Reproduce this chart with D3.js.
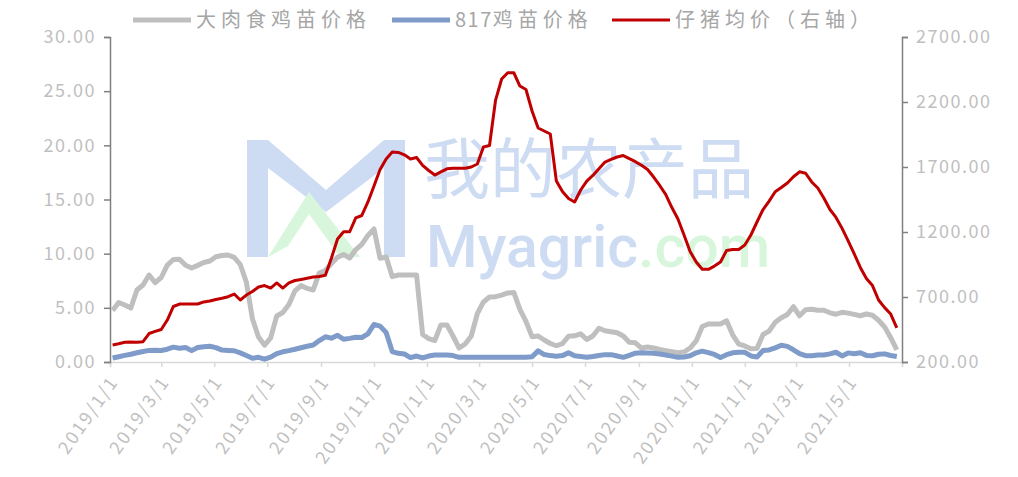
<!DOCTYPE html>
<html>
<head>
<meta charset="utf-8">
<script src="https://cdn.jsdelivr.net/npm/d3@7"></script>
<style>
  body { margin: 0; background: #fff; }
  text { font-family: "Noto Sans CJK SC", "DejaVu Sans", sans-serif; }
</style>
</head>
<body>
<div id="chart"></div>
<script>
// weekly data, first week 2019/1/4
var startDate = new Date(2019, 0, 4);

// 大肉食鸡苗价格 (left axis)
var broiler = [4.75,5.49,5.26,4.98,6.65,7.11,8.03,7.32,7.80,8.95,9.46,9.49,8.93,8.68,8.92,9.18,9.32,9.72,9.83,9.88,
  9.66,9.00,7.38,3.99,2.31,1.55,2.22,4.25,4.57,5.31,6.57,7.06,6.79,6.65,8.22,8.45,9.09,9.66,9.93,9.60,
  10.38,10.85,11.68,12.28,9.57,9.69,7.88,8.03,8.03,8.03,8.03,2.54,2.16,1.98,3.42,3.42,2.40,1.29,1.66,2.40,
  4.46,5.54,6.00,6.03,6.18,6.37,6.42,4.85,3.74,2.34,2.40,2.03,1.71,1.50,1.69,2.38,2.42,2.60,2.08,2.40,
  3.12,2.88,2.80,2.70,2.40,1.82,1.77,1.29,1.38,1.29,1.15,1.05,0.96,0.86,0.92,1.29,1.94,3.28,3.51,3.50,
  3.51,3.80,2.51,1.66,1.48,1.22,1.25,2.54,2.86,3.66,4.08,4.38,5.10,4.27,4.83,4.87,4.77,4.78,4.54,4.41,
  4.59,4.51,4.40,4.27,4.43,4.31,3.85,3.23,2.24,1.11];

// 817鸡苗价格 (left axis)
var chick817 = [0.37,0.49,0.61,0.72,0.85,0.97,1.07,1.08,1.06,1.18,1.37,1.27,1.34,1.05,1.33,1.40,1.45,1.33,1.10,1.07,
  1.04,0.84,0.60,0.35,0.43,0.26,0.45,0.78,0.94,1.05,1.18,1.32,1.45,1.57,1.98,2.33,2.20,2.46,2.10,2.18,
  2.29,2.26,2.59,3.47,3.31,2.72,0.96,0.80,0.74,0.41,0.55,0.37,0.55,0.65,0.65,0.65,0.59,0.43,0.44,0.44,
  0.44,0.44,0.44,0.44,0.44,0.44,0.44,0.44,0.44,0.48,1.03,0.69,0.59,0.53,0.59,0.85,0.57,0.50,0.44,0.50,
  0.60,0.68,0.68,0.55,0.43,0.62,0.81,0.85,0.82,0.80,0.73,0.64,0.54,0.43,0.46,0.57,0.85,1.00,0.86,0.70,
  0.41,0.67,0.85,0.90,0.89,0.56,0.47,1.06,1.11,1.30,1.54,1.44,1.13,0.78,0.58,0.57,0.65,0.65,0.75,0.90,
  0.56,0.84,0.76,0.85,0.61,0.58,0.72,0.75,0.60,0.51];

// 仔猪均价 (right axis)
var piglet = [331,340,352,354,352,356,419,435,450,523,627,646,646,646,646,662,669,681,690,702,
  723,677,715,742,777,788,769,808,769,808,827,835,844,854,858,868,1000,1146,1202,1202,
  1308,1327,1431,1554,1681,1762,1815,1812,1794,1762,1773,1712,1673,1638,1662,1686,1690,1690,1690,1700,
  1723,1854,1865,2215,2377,2425,2425,2323,2296,2131,2000,1977,1954,1592,1512,1458,1431,1523,1592,1635,
  1687,1738,1758,1777,1788,1765,1741,1713,1681,1623,1558,1488,1388,1300,1177,1050,969,913,913,938,
  969,1058,1065,1066,1100,1177,1277,1373,1438,1510,1542,1577,1625,1663,1652,1585,1538,1462,1373,1312,
  1228,1132,1031,927,842,788,677,618,569,462];

var leftTicks = [0, 5, 10, 15, 20, 25, 30];
var rightTicks = [200, 700, 1200, 1700, 2200, 2700];
var legendNames = ["大肉食鸡苗价格", "817鸡苗价格", "仔猪均价（右轴）"];
var colors = ["#bfbfbf", "#7f9bc9", "#c00000"];

var dates = piglet.map(function(d, i){ return d3.timeDay.offset(startDate, i * 7); });

var W = 1018, H = 477;
var margin = {top: 37, right: 116, bottom: 115, left: 110};
var width = W - margin.left - margin.right,
    height = H - margin.top - margin.bottom;

var x = d3.scaleTime()
  .domain([new Date(2019, 0, 1), new Date(2021, 6, 1)])
  .range([0, width]);
var yL = d3.scaleLinear().domain([0, 30]).range([height, 0]);
var yR = d3.scaleLinear().domain([200, 2700]).range([height, 0]);

var svg = d3.select("#chart").append("svg")
  .attr("width", W)
  .attr("height", H);

// watermark
var wm = svg.append("g");
wm.append("path")
  .attr("d", "M247,140 L268,140 L326,190 L384,140 L405,140 L405,257 L384,257 L384,168 L326,212 L268,168 L268,257 L247,257 Z")
  .attr("fill", "#cddcf3");
wm.append("path")
  .attr("d", "M268,257 L309,192 L360,257 L340,257 L309,214 L288,246 L268,257 Z")
  .attr("fill", "#d8f6dc");
var wmText = wm.append("text").attr("fill", "#cddcf3");
wmText.append("tspan").attr("x", 424).attr("y", 193)
  .attr("font-size", 66)
  .text("我的农产品");
var wmLine2 = wmText.append("tspan").attr("x", 426).attr("y", 267)
  .attr("font-size", 59).attr("font-family", "Roboto, sans-serif").attr("font-weight", 500);
wmLine2.append("tspan").text("Myagric");
wmLine2.append("tspan").attr("fill", "#d8f6dc").text(".com");

var g = svg.append("g")
  .attr("transform", "translate(" + margin.left + "," + margin.top + ")");

// x axis
var xTicks = d3.timeMonth.every(2).range(new Date(2019, 0, 1), new Date(2021, 6, 2));
var xAxis = g.append("g")
  .attr("transform", "translate(0," + height + ")")
  .call(d3.axisBottom(x).tickValues(xTicks).tickSize(5).tickFormat(""));
xAxis.select(".domain").attr("stroke", "#d9d9d9").attr("stroke-width", 1.5);
xAxis.selectAll(".tick line").attr("stroke", "#d9d9d9").attr("stroke-width", 1.5);

g.selectAll(".xlab")
  .data(xTicks.slice(0, xTicks.length - 1))
  .enter().append("text")
    .attr("class", "xlab")
    .attr("transform", function(d){ return "translate(" + (x(d) + 4) + "," + (height + 16) + ") rotate(-55)"; })
    .attr("text-anchor", "end")
    .attr("dy", "0.35em")
    .attr("font-size", 18)
    .attr("fill", "#bfbfbf")
    .style("letter-spacing", "2px")
    .text(function(d){ return d3.timeFormat("%Y/%-m/%-d")(d); });

// left axis
var left = g.append("g")
  .call(d3.axisLeft(yL).tickValues(leftTicks).tickSize(6).tickPadding(8).tickFormat(d3.format(".2f")));
left.select(".domain").attr("stroke", "#808080").attr("stroke-width", 1.5);
left.selectAll(".tick line").attr("stroke", "#808080").attr("stroke-width", 1.5);
left.selectAll(".tick text").attr("fill", "#bfbfbf").attr("font-size", 18)
  .style("letter-spacing", "1.5px");

// right axis
var right = g.append("g")
  .attr("transform", "translate(" + width + ",0)")
  .call(d3.axisRight(yR).tickValues(rightTicks).tickSize(6).tickPadding(8).tickFormat(d3.format(".2f")));
right.select(".domain").attr("stroke", "#808080").attr("stroke-width", 1.5);
right.selectAll(".tick line").attr("stroke", "#808080").attr("stroke-width", 1.5);
right.selectAll(".tick text").attr("fill", "#bfbfbf").attr("font-size", 18)
  .style("letter-spacing", "1.5px");

// lines
var lineL = d3.line()
  .x(function(d, i){ return x(dates[i]); })
  .y(function(d){ return yL(d); });
var lineR = d3.line()
  .x(function(d, i){ return x(dates[i]); })
  .y(function(d){ return yR(d); });

g.append("path").datum(broiler)
  .attr("fill", "none").attr("stroke", colors[0]).attr("stroke-width", 5)
  .attr("stroke-linejoin", "round")
  .attr("d", lineL);
g.append("path").datum(chick817)
  .attr("fill", "none").attr("stroke", colors[1]).attr("stroke-width", 5)
  .attr("stroke-linejoin", "round")
  .attr("d", lineL);
g.append("path").datum(piglet)
  .attr("fill", "none").attr("stroke", colors[2]).attr("stroke-width", 3)
  .attr("stroke-linejoin", "round")
  .attr("d", lineR);

// legend
var legendX = [133, 392, 612];
var legendW = [5, 5, 3];
var leg = svg.selectAll(".leg")
  .data(legendNames)
  .enter().append("g")
    .attr("class", "leg")
    .attr("transform", function(d, i){ return "translate(" + legendX[i] + ",20)"; });
leg.append("line")
  .attr("x1", 0).attr("x2", 58)
  .attr("stroke", function(d, i){ return colors[i]; })
  .attr("stroke-width", function(d, i){ return legendW[i]; });
var legText = leg.append("text")
  .attr("x", 63).attr("dy", "0.35em")
  .attr("font-size", 20)
  .attr("fill", "#a6a6a6");
// digits sit tighter than the CJK characters
legText.selectAll("tspan")
  .data(function(d){ return d.match(/[0-9]+|[^0-9]+/g); })
  .enter().append("tspan")
    .style("letter-spacing", function(s){ return /[0-9]/.test(s) ? "1.5px" : "5px"; })
    .text(function(s){ return s; });
</script>
</body>
</html>
